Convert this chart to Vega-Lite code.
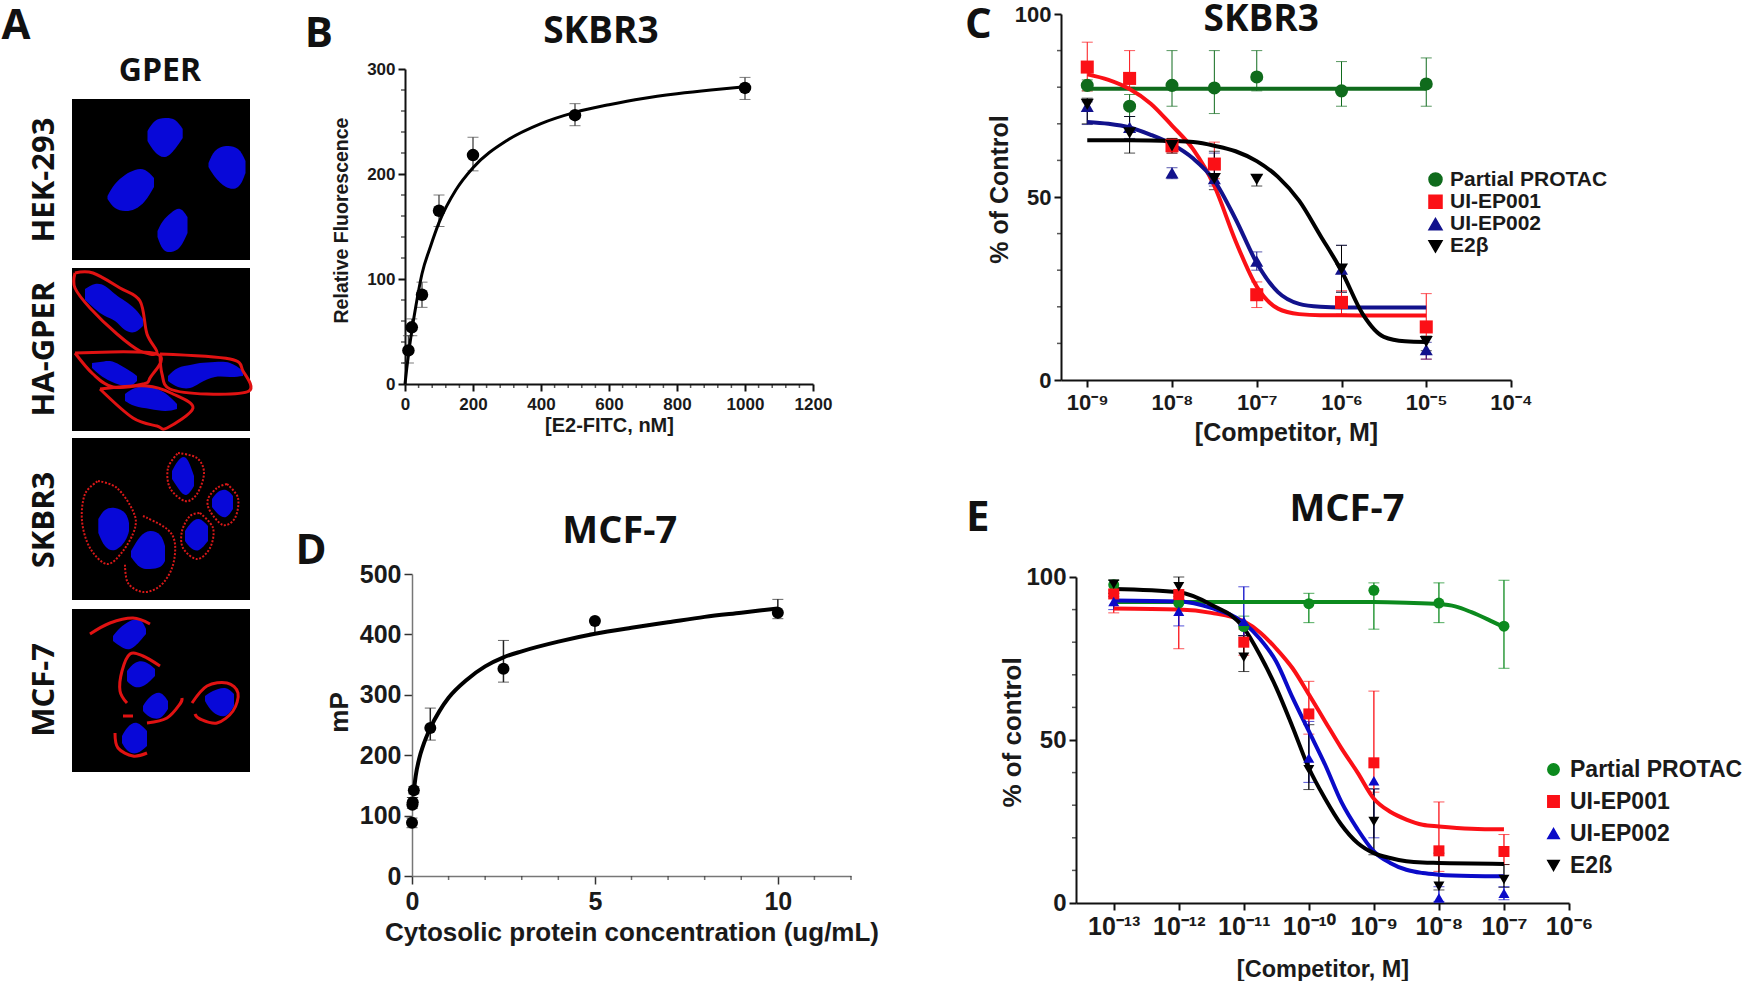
{"$schema":"https://vega.github.io/schema/vega-lite/v6.json","padding":0,"background":"white","bounds":"flush","spacing":0,
"resolve":{"scale":{"color":"independent","shape":"independent"},"legend":{"color":"independent","shape":"independent"}},
"config":{"view":{"stroke":null},"axis":{"grid":false,"domainColor":"#111","tickColor":"#111","domainWidth":2,"tickWidth":2,"labelFont":"Liberation Sans","titleFont":"Liberation Sans","labelFontWeight":"bold","titleFontWeight":"bold","labelColor":"#1a1a1a","titleColor":"#1a1a1a","labelFlush":false,"labelBound":false},"legend":{"labelFont":"Liberation Sans","labelFontWeight":"bold","labelColor":"#1a1a1a","symbolOpacity":1,"labelLimit":400}},
"datasets":{
"images":[{"panel":"HEK-293","x0":72,"x1":250,"y0":98,"y1":259},{"panel":"HA-GPER","x0":72,"x1":250,"y0":267,"y1":430},{"panel":"SKBR3","x0":72,"x1":250,"y0":437,"y1":599},{"panel":"MCF-7","x0":72,"x1":250,"y0":608,"y1":771}],
"nuclei":[
{"id":"n1","x":147.5,"t":130,"b":140},{"id":"n1","x":155,"t":120,"b":151},{"id":"n1","x":165,"t":117,"b":156},{"id":"n1","x":175,"t":119,"b":148},{"id":"n1","x":182.7,"t":128,"b":137},
{"id":"n2","x":208.5,"t":162,"b":166},{"id":"n2","x":215,"t":150,"b":176},{"id":"n2","x":226,"t":145,"b":186},{"id":"n2","x":238,"t":148,"b":186},{"id":"n2","x":245.5,"t":160,"b":172},
{"id":"n3","x":107.5,"t":195,"b":198},{"id":"n3","x":115,"t":183,"b":207},{"id":"n3","x":125,"t":174,"b":210},{"id":"n3","x":135,"t":169,"b":208},{"id":"n3","x":145,"t":169,"b":200},{"id":"n3","x":154,"t":177,"b":186},
{"id":"n4","x":157.5,"t":230,"b":236},{"id":"n4","x":163,"t":220,"b":248},{"id":"n4","x":171,"t":212,"b":251},{"id":"n4","x":180,"t":208,"b":246},{"id":"n4","x":187.5,"t":216,"b":232},
{"id":"h1","x":85,"t":288,"b":299},{"id":"h1","x":95,"t":283,"b":308},{"id":"h1","x":105,"t":285,"b":315},{"id":"h1","x":115,"t":293,"b":320},{"id":"h1","x":125,"t":300,"b":329},{"id":"h1","x":135,"t":308,"b":331},{"id":"h1","x":143,"t":318,"b":325},
{"id":"h2","x":92,"t":362,"b":367},{"id":"h2","x":100,"t":361,"b":374},{"id":"h2","x":110,"t":360,"b":380},{"id":"h2","x":120,"t":364,"b":384},{"id":"h2","x":130,"t":370,"b":385},{"id":"h2","x":137,"t":375,"b":380},
{"id":"h3","x":168,"t":375,"b":380},{"id":"h3","x":178,"t":367,"b":386},{"id":"h3","x":190,"t":364,"b":387},{"id":"h3","x":200,"t":362,"b":382},{"id":"h3","x":215,"t":361,"b":376},{"id":"h3","x":230,"t":362,"b":376},{"id":"h3","x":243,"t":370,"b":375},
{"id":"h4","x":125,"t":393,"b":400},{"id":"h4","x":135,"t":387,"b":405},{"id":"h4","x":150,"t":386,"b":408},{"id":"h4","x":165,"t":392,"b":410},{"id":"h4","x":177,"t":403,"b":408},
{"id":"a","x":98.3,"t":518,"b":532},{"id":"a","x":105,"t":509,"b":545},{"id":"a","x":115,"t":507,"b":549},{"id":"a","x":125,"t":512,"b":540},{"id":"a","x":129,"t":522,"b":530},
{"id":"b","x":131,"t":550,"b":556},{"id":"b","x":140,"t":536,"b":566},{"id":"b","x":150,"t":530,"b":568},{"id":"b","x":160,"t":534,"b":566},{"id":"b","x":165,"t":545,"b":560},
{"id":"c","x":172,"t":470,"b":478},{"id":"c","x":178,"t":460,"b":487},{"id":"c","x":186,"t":457,"b":494},{"id":"c","x":194,"t":475,"b":485},
{"id":"d","x":185,"t":530,"b":540},{"id":"d","x":191,"t":522,"b":547},{"id":"d","x":199,"t":518,"b":549},{"id":"d","x":208,"t":525,"b":540},
{"id":"e","x":212,"t":498,"b":506},{"id":"e","x":218,"t":491,"b":513},{"id":"e","x":226,"t":489,"b":516},{"id":"e","x":233,"t":495,"b":508},
{"id":"f","x":113,"t":635,"b":640},{"id":"f","x":120,"t":627,"b":645},{"id":"f","x":130,"t":620,"b":648},{"id":"f","x":140,"t":619,"b":640},{"id":"f","x":146,"t":628,"b":633},
{"id":"g","x":127,"t":670,"b":680},{"id":"g","x":135,"t":662,"b":686},{"id":"g","x":145,"t":661,"b":684},{"id":"g","x":155,"t":668,"b":675},
{"id":"i2","x":143,"t":705,"b":710},{"id":"i2","x":150,"t":696,"b":716},{"id":"i2","x":160,"t":692,"b":717},{"id":"i2","x":168,"t":700,"b":708},
{"id":"i","x":122,"t":735,"b":742},{"id":"i","x":128,"t":726,"b":750},{"id":"i","x":137,"t":722,"b":752},{"id":"i","x":147,"t":730,"b":745},
{"id":"j","x":205,"t":695,"b":700},{"id":"j","x":213,"t":690,"b":711},{"id":"j","x":225,"t":687,"b":715},{"id":"j","x":234,"t":693,"b":705}],
"membranes":[
{"id":"M1","o":1,"x":75,"y":272},{"id":"M1","o":2,"x":93,"y":272},{"id":"M1","o":3,"x":120,"y":287},{"id":"M1","o":4,"x":140,"y":300},{"id":"M1","o":5,"x":147,"y":333},{"id":"M1","o":6,"x":157,"y":352},{"id":"M1","o":7,"x":140,"y":350},{"id":"M1","o":8,"x":117,"y":333},{"id":"M1","o":9,"x":90,"y":307},{"id":"M1","o":10,"x":75,"y":287},{"id":"M1","o":11,"x":75,"y":272},
{"id":"M2","o":1,"x":75,"y":352},{"id":"M2","o":2,"x":157,"y":353},{"id":"M2","o":3,"x":150,"y":377},{"id":"M2","o":4,"x":143,"y":383},{"id":"M2","o":5,"x":113,"y":386},{"id":"M2","o":6,"x":93,"y":373},{"id":"M2","o":7,"x":75,"y":352},
{"id":"M3","o":1,"x":160,"y":353},{"id":"M3","o":2,"x":230,"y":358},{"id":"M3","o":3,"x":243,"y":370},{"id":"M3","o":4,"x":249,"y":390},{"id":"M3","o":5,"x":207,"y":393},{"id":"M3","o":6,"x":170,"y":388},{"id":"M3","o":7,"x":162,"y":373},{"id":"M3","o":8,"x":160,"y":353},
{"id":"M4","o":1,"x":100,"y":388},{"id":"M4","o":2,"x":147,"y":385},{"id":"M4","o":3,"x":173,"y":393},{"id":"M4","o":4,"x":193,"y":407},{"id":"M4","o":5,"x":167,"y":427},{"id":"M4","o":6,"x":157,"y":425},{"id":"M4","o":7,"x":133,"y":417},{"id":"M4","o":8,"x":100,"y":388},
{"id":"Mf","o":1,"x":90,"y":633},{"id":"Mf","o":2,"x":110,"y":622},{"id":"Mf","o":3,"x":133,"y":617},{"id":"Mf","o":4,"x":150,"y":623},
{"id":"Mg","o":1,"x":160,"y":665},{"id":"Mg","o":2,"x":143,"y":655},{"id":"Mg","o":3,"x":130,"y":653},{"id":"Mg","o":4,"x":122,"y":670},{"id":"Mg","o":5,"x":120,"y":690},{"id":"Mg","o":6,"x":127,"y":702},
{"id":"Mh","o":1,"x":147,"y":722},{"id":"Mh","o":2,"x":167,"y":717},{"id":"Mh","o":3,"x":180,"y":703},{"id":"Mh","o":4,"x":182,"y":697},
{"id":"Mi","o":1,"x":115,"y":732},{"id":"Mi","o":2,"x":118,"y":747},{"id":"Mi","o":3,"x":133,"y":755},{"id":"Mi","o":4,"x":147,"y":752},
{"id":"Mk","o":1,"x":123,"y":715},{"id":"Mk","o":2,"x":133,"y":715},
{"id":"Mj","o":1,"x":192,"y":702},{"id":"Mj","o":2,"x":207,"y":685},{"id":"Mj","o":3,"x":227,"y":682},{"id":"Mj","o":4,"x":238,"y":692},{"id":"Mj","o":5,"x":233,"y":710},{"id":"Mj","o":6,"x":217,"y":722},{"id":"Mj","o":7,"x":200,"y":718},{"id":"Mj","o":8,"x":195,"y":713}],
"dotted":[
{"id":"Ma","o":1,"x":98,"y":480},{"id":"Ma","o":2,"x":117,"y":487},{"id":"Ma","o":3,"x":133,"y":510},{"id":"Ma","o":4,"x":135,"y":527},{"id":"Ma","o":5,"x":123,"y":550},{"id":"Ma","o":6,"x":107,"y":563},{"id":"Ma","o":7,"x":90,"y":547},{"id":"Ma","o":8,"x":82,"y":520},{"id":"Ma","o":9,"x":85,"y":493},{"id":"Ma","o":10,"x":98,"y":480},
{"id":"Mb","o":1,"x":143,"y":515},{"id":"Mb","o":2,"x":167,"y":528},{"id":"Mb","o":3,"x":175,"y":543},{"id":"Mb","o":4,"x":172,"y":567},{"id":"Mb","o":5,"x":160,"y":585},{"id":"Mb","o":6,"x":143,"y":591},{"id":"Mb","o":7,"x":128,"y":582},{"id":"Mb","o":8,"x":125,"y":563},
{"id":"Mc","o":1,"x":178,"y":452},{"id":"Mc","o":2,"x":197,"y":457},{"id":"Mc","o":3,"x":204,"y":472},{"id":"Mc","o":4,"x":197,"y":493},{"id":"Mc","o":5,"x":185,"y":500},{"id":"Mc","o":6,"x":170,"y":487},{"id":"Mc","o":7,"x":168,"y":467},{"id":"Mc","o":8,"x":178,"y":452},
{"id":"Md","o":1,"x":200,"y":512},{"id":"Md","o":2,"x":213,"y":527},{"id":"Md","o":3,"x":210,"y":547},{"id":"Md","o":4,"x":197,"y":558},{"id":"Md","o":5,"x":183,"y":547},{"id":"Md","o":6,"x":182,"y":530},{"id":"Md","o":7,"x":190,"y":515},{"id":"Md","o":8,"x":200,"y":512},
{"id":"Me","o":1,"x":227,"y":483},{"id":"Me","o":2,"x":238,"y":497},{"id":"Me","o":3,"x":235,"y":517},{"id":"Me","o":4,"x":223,"y":524},{"id":"Me","o":5,"x":210,"y":510},{"id":"Me","o":6,"x":208,"y":498},{"id":"Me","o":7,"x":217,"y":487},{"id":"Me","o":8,"x":227,"y":483}],
"minorB_x":[{"v":40},{"v":80},{"v":120},{"v":160},{"v":240},{"v":280},{"v":320},{"v":360},{"v":440},{"v":480},{"v":520},{"v":560},{"v":640},{"v":680},{"v":720},{"v":760},{"v":840},{"v":880},{"v":920},{"v":960},{"v":1040},{"v":1080},{"v":1120},{"v":1160}],
"minorB_y":[{"v":20},{"v":40},{"v":60},{"v":80},{"v":120},{"v":140},{"v":160},{"v":180},{"v":220},{"v":240},{"v":260},{"v":280}],
"minorD_x":[{"v":1},{"v":2},{"v":3},{"v":4},{"v":6},{"v":7},{"v":8},{"v":9},{"v":11},{"v":12}],
"minorPct":[{"v":10},{"v":20},{"v":30},{"v":40},{"v":60},{"v":70},{"v":80},{"v":90}],
"bPts":[{"x":10,"y":32,"lo":20,"hi":46},{"x":20,"y":54,"lo":46,"hi":62},{"x":50,"y":85,"lo":73,"hi":97},{"x":100,"y":165,"lo":150,"hi":180},{"x":200,"y":218,"lo":203,"hi":235},{"x":500,"y":256,"lo":246,"hi":267},{"x":1000,"y":282,"lo":271,"hi":292}],
"bFit":[{"x":0,"y":0},{"x":5,"y":14.4},{"x":10,"y":27.6},{"x":20,"y":50.7},{"x":30,"y":70.5},{"x":50,"y":105},{"x":75,"y":131},{"x":100,"y":153.7},{"x":150,"y":185},{"x":200,"y":206},{"x":300,"y":232},{"x":400,"y":248},{"x":500,"y":258.7},{"x":600,"y":266},{"x":700,"y":272},{"x":800,"y":276.4},{"x":900,"y":280},{"x":1000,"y":283}],
"dPts":[{"x":0,"y":88,"lo":80,"hi":96},{"x":0.01,"y":118,"lo":112,"hi":130},{"x":0.02,"y":122,"lo":116,"hi":130},{"x":0.05,"y":142,"lo":136,"hi":148},{"x":0.5,"y":245,"lo":225,"hi":278},{"x":2.5,"y":343,"lo":321,"hi":390},{"x":5,"y":422,"lo":402,"hi":424},{"x":10,"y":436,"lo":426,"hi":458}],
"dFit":[{"x":0.05,"y":140},{"x":0.1,"y":165},{"x":0.2,"y":195},{"x":0.3,"y":215},{"x":0.5,"y":245},{"x":0.75,"y":273},{"x":1,"y":295},{"x":1.5,"y":325},{"x":2,"y":347},{"x":2.5,"y":362},{"x":3,"y":372},{"x":4,"y":388},{"x":5,"y":401},{"x":6,"y":411},{"x":7,"y":420},{"x":8,"y":429},{"x":9,"y":436},{"x":10,"y":443}],
"cPts":[
{"s":"Partial PROTAC","c":1e-9,"y":80.5,"lo":79,"hi":82},{"s":"Partial PROTAC","c":3.16e-9,"y":74.8,"lo":72,"hi":78},{"s":"Partial PROTAC","c":1e-8,"y":80.5,"lo":74.8,"hi":90},{"s":"Partial PROTAC","c":3.16e-8,"y":79.8,"lo":72.8,"hi":90},{"s":"Partial PROTAC","c":1e-7,"y":82.8,"lo":79,"hi":90},{"s":"Partial PROTAC","c":1e-6,"y":79,"lo":74.8,"hi":87},{"s":"Partial PROTAC","c":1e-5,"y":80.9,"lo":74.8,"hi":88},
{"s":"UI-EP001","c":1e-9,"y":85.5,"lo":79,"hi":92.3},{"s":"UI-EP001","c":3.16e-9,"y":82.4,"lo":80,"hi":90},{"s":"UI-EP001","c":1e-8,"y":64,"lo":62,"hi":66},{"s":"UI-EP001","c":3.16e-8,"y":59,"lo":55,"hi":65},{"s":"UI-EP001","c":1e-7,"y":23.3,"lo":19.8,"hi":26.8},{"s":"UI-EP001","c":1e-6,"y":21.2,"lo":18,"hi":24.4},{"s":"UI-EP001","c":1e-5,"y":14.5,"lo":5.7,"hi":23.6},
{"s":"UI-EP002","c":1e-9,"y":74.8,"lo":69.8,"hi":76},{"s":"UI-EP002","c":3.16e-9,"y":69,"lo":66,"hi":72},{"s":"UI-EP002","c":1e-8,"y":56.6,"lo":55,"hi":58},{"s":"UI-EP002","c":3.16e-8,"y":55,"lo":53,"hi":62},{"s":"UI-EP002","c":1e-7,"y":32.5,"lo":30,"hi":35},{"s":"UI-EP002","c":1e-6,"y":30.3,"lo":24,"hi":36.8},{"s":"UI-EP002","c":1e-5,"y":8.3,"lo":5.7,"hi":10.3},
{"s":"E2β","c":1e-9,"y":75.3,"lo":70,"hi":77},{"s":"E2β","c":3.16e-9,"y":67.5,"lo":62,"hi":72},{"s":"E2β","c":1e-8,"y":64,"lo":62,"hi":66},{"s":"E2β","c":3.16e-8,"y":55,"lo":52,"hi":62.5},{"s":"E2β","c":1e-7,"y":54.8,"lo":53,"hi":56},{"s":"E2β","c":1e-6,"y":30.3,"lo":24,"hi":36.8},{"s":"E2β","c":1e-5,"y":10.5,"lo":8,"hi":12}],
"cFit":[
{"s":"Partial PROTAC","c":1e-9,"y":79.6},{"s":"Partial PROTAC","c":3.16e-9,"y":79.6},{"s":"Partial PROTAC","c":1e-8,"y":79.6},{"s":"Partial PROTAC","c":3.16e-8,"y":79.6},{"s":"Partial PROTAC","c":1e-7,"y":79.6},{"s":"Partial PROTAC","c":1e-6,"y":79.6},{"s":"Partial PROTAC","c":1e-5,"y":79.6},
{"s":"UI-EP001","c":1e-9,"y":83.5},{"s":"UI-EP001","c":1.78e-9,"y":82},{"s":"UI-EP001","c":3.16e-9,"y":79.5},{"s":"UI-EP001","c":5.62e-9,"y":75.5},{"s":"UI-EP001","c":1e-8,"y":69.5},{"s":"UI-EP001","c":1.78e-8,"y":63},{"s":"UI-EP001","c":3.16e-8,"y":53},{"s":"UI-EP001","c":5.62e-8,"y":38},{"s":"UI-EP001","c":1e-7,"y":25.5},{"s":"UI-EP001","c":1.78e-7,"y":19.5},{"s":"UI-EP001","c":3.16e-7,"y":18},{"s":"UI-EP001","c":5.62e-7,"y":17.7},{"s":"UI-EP001","c":1e-6,"y":17.7},{"s":"UI-EP001","c":3.16e-6,"y":17.6},{"s":"UI-EP001","c":1e-5,"y":17.6},
{"s":"UI-EP002","c":1e-9,"y":70.5},{"s":"UI-EP002","c":1.78e-9,"y":70},{"s":"UI-EP002","c":3.16e-9,"y":69},{"s":"UI-EP002","c":5.62e-9,"y":67},{"s":"UI-EP002","c":1e-8,"y":64.4},{"s":"UI-EP002","c":1.78e-8,"y":60.5},{"s":"UI-EP002","c":3.16e-8,"y":54.5},{"s":"UI-EP002","c":5.62e-8,"y":44},{"s":"UI-EP002","c":1e-7,"y":32},{"s":"UI-EP002","c":1.78e-7,"y":24},{"s":"UI-EP002","c":3.16e-7,"y":20.8},{"s":"UI-EP002","c":5.62e-7,"y":20},{"s":"UI-EP002","c":1e-6,"y":19.8},{"s":"UI-EP002","c":3.16e-6,"y":19.8},{"s":"UI-EP002","c":1e-5,"y":19.8},
{"s":"E2β","c":1e-9,"y":65.5},{"s":"E2β","c":3.16e-9,"y":65.5},{"s":"E2β","c":1e-8,"y":65.3},{"s":"E2β","c":1.78e-8,"y":65},{"s":"E2β","c":3.16e-8,"y":64},{"s":"E2β","c":5.62e-8,"y":62.5},{"s":"E2β","c":1e-7,"y":59.8},{"s":"E2β","c":1.78e-7,"y":55.5},{"s":"E2β","c":3.16e-7,"y":49},{"s":"E2β","c":5.62e-7,"y":39.5},{"s":"E2β","c":1e-6,"y":29.8},{"s":"E2β","c":1.78e-6,"y":18},{"s":"E2β","c":3.16e-6,"y":11.8},{"s":"E2β","c":5.62e-6,"y":10.6},{"s":"E2β","c":1e-5,"y":10.4}],
"ePts":[
{"s":"Partial PROTAC","c":1e-13,"y":97.6,"lo":95,"hi":99},{"s":"Partial PROTAC","c":1e-12,"y":92,"lo":90,"hi":94},{"s":"Partial PROTAC","c":1e-11,"y":84.8,"lo":82,"hi":88},{"s":"Partial PROTAC","c":1e-10,"y":91.8,"lo":86,"hi":95},{"s":"Partial PROTAC","c":1e-9,"y":95.9,"lo":84,"hi":98.2},{"s":"Partial PROTAC","c":1e-8,"y":92,"lo":86,"hi":98.2},{"s":"Partial PROTAC","c":1e-7,"y":84.9,"lo":72,"hi":99},
{"s":"UI-EP001","c":1e-13,"y":94.8,"lo":89,"hi":96},{"s":"UI-EP001","c":1e-12,"y":94.6,"lo":78,"hi":96},{"s":"UI-EP001","c":1e-11,"y":80,"lo":76,"hi":84},{"s":"UI-EP001","c":1e-10,"y":58,"lo":51.8,"hi":68},{"s":"UI-EP001","c":1e-9,"y":43,"lo":34,"hi":65},{"s":"UI-EP001","c":1e-8,"y":16,"lo":9.7,"hi":31},{"s":"UI-EP001","c":1e-7,"y":15.8,"lo":11.8,"hi":21},
{"s":"UI-EP002","c":1e-13,"y":92.5,"lo":90,"hi":94},{"s":"UI-EP002","c":1e-12,"y":89.5,"lo":85,"hi":93},{"s":"UI-EP002","c":1e-11,"y":86.4,"lo":82,"hi":97},{"s":"UI-EP002","c":1e-10,"y":44.5,"lo":37,"hi":55.7},{"s":"UI-EP002","c":1e-9,"y":37.5,"lo":20,"hi":35},{"s":"UI-EP002","c":1e-8,"y":1.5,"lo":0.5,"hi":5},{"s":"UI-EP002","c":1e-7,"y":3,"lo":1,"hi":5},
{"s":"E2ß","c":1e-13,"y":97.8,"lo":95,"hi":99},{"s":"E2ß","c":1e-12,"y":97,"lo":93,"hi":100},{"s":"E2ß","c":1e-11,"y":75.4,"lo":71,"hi":82},{"s":"E2ß","c":1e-10,"y":40.9,"lo":34.8,"hi":54.7},{"s":"E2ß","c":1e-9,"y":25,"lo":14.8,"hi":35},{"s":"E2ß","c":1e-8,"y":5.1,"lo":4,"hi":15.3},{"s":"E2ß","c":1e-7,"y":7.2,"lo":4.8,"hi":11.8}],
"eFit":[
{"s":"Partial PROTAC","c":1e-13,"y":92.3},{"s":"Partial PROTAC","c":1e-12,"y":92.3},{"s":"Partial PROTAC","c":1e-11,"y":92.3},{"s":"Partial PROTAC","c":1e-10,"y":92.3},{"s":"Partial PROTAC","c":1e-9,"y":92.3},{"s":"Partial PROTAC","c":3.16e-9,"y":92.1},{"s":"Partial PROTAC","c":1e-8,"y":91.7},{"s":"Partial PROTAC","c":1.78e-8,"y":91},{"s":"Partial PROTAC","c":3.16e-8,"y":89.2},{"s":"Partial PROTAC","c":5.62e-8,"y":87},{"s":"Partial PROTAC","c":1e-7,"y":84.6},
{"s":"UI-EP001","c":1e-13,"y":90.3},{"s":"UI-EP001","c":1e-12,"y":90},{"s":"UI-EP001","c":3.16e-12,"y":89},{"s":"UI-EP001","c":1e-11,"y":86.4},{"s":"UI-EP001","c":1.78e-11,"y":83},{"s":"UI-EP001","c":3.16e-11,"y":78},{"s":"UI-EP001","c":5.62e-11,"y":72},{"s":"UI-EP001","c":1e-10,"y":64},{"s":"UI-EP001","c":1.78e-10,"y":55.7},{"s":"UI-EP001","c":3.16e-10,"y":47.5},{"s":"UI-EP001","c":5.62e-10,"y":40},{"s":"UI-EP001","c":1e-9,"y":32},{"s":"UI-EP001","c":1.78e-9,"y":28},{"s":"UI-EP001","c":3.16e-9,"y":25.6},{"s":"UI-EP001","c":5.62e-9,"y":24},{"s":"UI-EP001","c":1e-8,"y":23.5},{"s":"UI-EP001","c":3.16e-8,"y":22.8},{"s":"UI-EP001","c":1e-7,"y":22.6},
{"s":"UI-EP002","c":1e-13,"y":92.8},{"s":"UI-EP002","c":1e-12,"y":92.5},{"s":"UI-EP002","c":3.16e-12,"y":90.5},{"s":"UI-EP002","c":1e-11,"y":85.9},{"s":"UI-EP002","c":1.78e-11,"y":81},{"s":"UI-EP002","c":3.16e-11,"y":74},{"s":"UI-EP002","c":5.62e-11,"y":63},{"s":"UI-EP002","c":1e-10,"y":52.7},{"s":"UI-EP002","c":1.78e-10,"y":42.4},{"s":"UI-EP002","c":3.16e-10,"y":31},{"s":"UI-EP002","c":5.62e-10,"y":22.6},{"s":"UI-EP002","c":1e-9,"y":15.8},{"s":"UI-EP002","c":1.78e-9,"y":12.3},{"s":"UI-EP002","c":3.16e-9,"y":10.2},{"s":"UI-EP002","c":5.62e-9,"y":9.2},{"s":"UI-EP002","c":1e-8,"y":8.7},{"s":"UI-EP002","c":3.16e-8,"y":8.3},{"s":"UI-EP002","c":1e-7,"y":8.2},
{"s":"E2ß","c":1e-13,"y":96.3},{"s":"E2ß","c":1e-12,"y":95.3},{"s":"E2ß","c":3.16e-12,"y":91.5},{"s":"E2ß","c":1e-11,"y":84.4},{"s":"E2ß","c":1.78e-11,"y":76},{"s":"E2ß","c":3.16e-11,"y":66},{"s":"E2ß","c":5.62e-11,"y":54},{"s":"E2ß","c":1e-10,"y":41.4},{"s":"E2ß","c":1.78e-10,"y":32},{"s":"E2ß","c":3.16e-10,"y":24},{"s":"E2ß","c":5.62e-10,"y":18.4},{"s":"E2ß","c":1e-9,"y":15.3},{"s":"E2ß","c":1.78e-9,"y":13.8},{"s":"E2ß","c":3.16e-9,"y":12.8},{"s":"E2ß","c":5.62e-9,"y":12.4},{"s":"E2ß","c":1e-8,"y":12.3},{"s":"E2ß","c":3.16e-8,"y":12.1},{"s":"E2ß","c":1e-7,"y":12}]
},
"hconcat":[
{"width":300,"height":981,
"layer":[
{"data":{"name":"images"},"mark":{"type":"rect","color":"#000"},"encoding":{"x":{"field":"x0","type":"quantitative","scale":{"domain":[0,300],"nice":false,"zero":false},"axis":null},"x2":{"field":"x1"},"y":{"field":"y0","type":"quantitative","scale":{"domain":[981,0],"nice":false,"zero":false},"axis":null},"y2":{"field":"y1"}}},
{"data":{"name":"nuclei"},"mark":{"type":"area","color":"#0808d8","interpolate":"natural"},"encoding":{"x":{"field":"x","type":"quantitative"},"y":{"field":"t","type":"quantitative"},"y2":{"field":"b"},"detail":{"field":"id"}}},
{"data":{"name":"membranes"},"mark":{"type":"line","color":"#e01212","strokeWidth":3,"interpolate":"cardinal"},"encoding":{"x":{"field":"x","type":"quantitative"},"y":{"field":"y","type":"quantitative"},"detail":{"field":"id"},"order":{"field":"o"}}},
{"data":{"name":"dotted"},"mark":{"type":"line","color":"#d81818","strokeWidth":2,"strokeDash":[2,1.6],"interpolate":"cardinal"},"encoding":{"x":{"field":"x","type":"quantitative"},"y":{"field":"y","type":"quantitative"},"detail":{"field":"id"},"order":{"field":"o"}}},
{"data":{"values":[{"t":"A","x":16,"y":38},{"t":"GPER","x":160,"y":80}]},"mark":{"type":"text","font":"Open Sans","fontWeight":"bold","color":"#111","baseline":"alphabetic"},"encoding":{"x":{"field":"x","type":"quantitative"},"y":{"field":"y","type":"quantitative"},"text":{"field":"t"},"size":{"condition":{"test":"datum.t=='A'","value":42},"value":32}}},
{"data":{"values":[{"t":"HEK-293","x":45,"y":179},{"t":"HA-GPER","x":45,"y":348},{"t":"SKBR3","x":45,"y":519},{"t":"MCF-7","x":45,"y":689}]},"mark":{"type":"text","font":"Open Sans","fontWeight":"bold","fontSize":31,"angle":270,"color":"#111"},"encoding":{"x":{"field":"x","type":"quantitative"},"y":{"field":"y","type":"quantitative"},"text":{"field":"t"}}}
]},
{"bounds":"flush","spacing":0,"vconcat":[
{"width":10,"height":68,"data":{"values":[]},"mark":"point","encoding":{}},
{"bounds":"flush","spacing":0,"hconcat":[
{"width":105,"height":10,"data":{"values":[]},"mark":"point","encoding":{}},
{"width":408,"height":315,"layer":[
{"data":{"name":"bPts"},"mark":{"type":"errorbar","ticks":{"size":11,"color":"#444"},"rule":{"color":"#444","strokeWidth":1.3}},"encoding":{"x":{"field":"x","type":"quantitative","title":"[E2-FITC, nM]"},"y":{"field":"lo","type":"quantitative","title":"Relative Fluorescence"},"y2":{"field":"hi"}}},
{"data":{"name":"bFit"},"mark":{"type":"line","color":"#000","strokeWidth":3,"interpolate":"monotone"},"encoding":{"x":{"field":"x","type":"quantitative","title":"[E2-FITC, nM]","scale":{"domain":[0,1200],"nice":false},"axis":{"values":[0,200,400,600,800,1000,1200],"format":"d","tickSize":7,"labelFontSize":17,"titleFontSize":20,"labelPadding":5,"titlePadding":3}},"y":{"field":"y","type":"quantitative","title":"Relative Fluorescence","scale":{"domain":[0,300],"nice":false},"axis":{"values":[0,100,200,300],"tickSize":7,"labelFontSize":17,"titleFontSize":19.5,"labelPadding":3,"titlePadding":15,"titleY":151}}}},
{"data":{"name":"minorB_x"},"mark":{"type":"tick","orient":"vertical","size":4,"thickness":1.5,"color":"#111","yOffset":2},"encoding":{"x":{"field":"v","type":"quantitative","title":"[E2-FITC, nM]"},"y":{"datum":0,"type":"quantitative","title":"Relative Fluorescence"}}},
{"data":{"name":"minorB_y"},"mark":{"type":"tick","orient":"horizontal","size":4,"thickness":1.5,"color":"#111","xOffset":-2},"encoding":{"y":{"field":"v","type":"quantitative","title":"Relative Fluorescence"},"x":{"datum":0,"type":"quantitative","title":"[E2-FITC, nM]"}}},
{"data":{"name":"bPts"},"mark":{"type":"point","filled":true,"opacity":1,"size":156,"color":"#000"},"encoding":{"x":{"field":"x","type":"quantitative"},"y":{"field":"y","type":"quantitative"}}},
{"data":{"values":[{"t":"SKBR3","x":576,"y":335},{"t":"B","x":-253,"y":333}]},"mark":{"type":"text","font":"Open Sans","fontWeight":"bold","color":"#111"},"encoding":{"x":{"field":"x","type":"quantitative"},"y":{"field":"y","type":"quantitative"},"text":{"field":"t"},"size":{"condition":{"test":"datum.t=='B'","value":42},"value":37}}}
]}]},
{"width":10,"height":505,"data":{"values":[]},"mark":"point","encoding":{}},
{"bounds":"flush","spacing":0,"hconcat":[
{"width":112,"height":10,"data":{"values":[]},"mark":"point","encoding":{}},
{"width":439,"height":302,"layer":[
{"data":{"name":"dPts"},"mark":{"type":"errorbar","ticks":{"size":11,"color":"#222"},"rule":{"color":"#222","strokeWidth":1.5}},"encoding":{"x":{"field":"x","type":"quantitative","title":"Cytosolic protein concentration (ug/mL)"},"y":{"field":"lo","type":"quantitative","title":"mP"},"y2":{"field":"hi"}}},
{"data":{"name":"dFit"},"mark":{"type":"line","color":"#000","strokeWidth":4,"interpolate":"monotone"},"encoding":{"x":{"field":"x","type":"quantitative","title":"Cytosolic protein concentration (ug/mL)","scale":{"domain":[0,12],"nice":false},"axis":{"values":[0,5,10],"domainColor":"#777","domainWidth":1.5,"tickColor":"#333","tickWidth":1.5,"tickSize":8,"labelFontSize":25,"titleFontSize":26,"labelPadding":5,"titlePadding":5}},"y":{"field":"y","type":"quantitative","title":"mP","scale":{"domain":[0,500],"nice":false},"axis":{"values":[0,100,200,300,400,500],"domainColor":"#777","domainWidth":1.5,"tickColor":"#333","tickWidth":1.5,"tickSize":8,"labelFontSize":25,"titleFontSize":26,"labelPadding":3,"titlePadding":7,"titleY":138}}}},
{"data":{"name":"minorD_x"},"mark":{"type":"tick","orient":"vertical","size":4,"thickness":1.5,"color":"#333","yOffset":2},"encoding":{"x":{"field":"v","type":"quantitative","title":"Cytosolic protein concentration (ug/mL)"},"y":{"datum":0,"type":"quantitative","title":"mP"}}},
{"data":{"name":"dPts"},"mark":{"type":"point","filled":true,"opacity":1,"size":144,"color":"#000"},"encoding":{"x":{"field":"x","type":"quantitative"},"y":{"field":"y","type":"quantitative"}}},
{"data":{"values":[{"t":"MCF-7","x":5.68,"y":570},{"t":"D","x":-2.76,"y":538}]},"mark":{"type":"text","font":"Open Sans","fontWeight":"bold","color":"#111"},"encoding":{"x":{"field":"x","type":"quantitative"},"y":{"field":"y","type":"quantitative"},"text":{"field":"t"},"size":{"condition":{"test":"datum.t=='D'","value":42},"value":38}}}
]}],"resolve":{"scale":{"color":"independent","shape":"independent"},"legend":{"color":"independent","shape":"independent"}}}
],"resolve":{"scale":{"color":"independent","shape":"independent"},"legend":{"color":"independent","shape":"independent"}}},
{"width":551,"height":10,"data":{"values":[]},"mark":"point","encoding":{}},
{"bounds":"flush","spacing":0,"resolve":{"scale":{"color":"independent","shape":"independent"},"legend":{"color":"independent","shape":"independent"}},"vconcat":[
{"width":10,"height":13,"data":{"values":[]},"mark":"point","encoding":{}},
{"bounds":"flush","spacing":0,"resolve":{"scale":{"color":"independent","shape":"independent"},"legend":{"color":"independent","shape":"independent"}},"hconcat":[
{"width":210,"height":10,"data":{"values":[]},"mark":"point","encoding":{}},
{"width":450,"height":366,"layer":[
{"data":{"name":"cPts"},"mark":{"type":"errorbar","ticks":{"size":11},"rule":{"strokeWidth":1}},"encoding":{"x":{"field":"c","type":"quantitative","title":"[Competitor, M]"},"y":{"field":"lo","type":"quantitative","title":"% of Control"},"y2":{"field":"hi"},"color":{"field":"s","type":"nominal","title":null,"scale":{"domain":["Partial PROTAC","UI-EP001","UI-EP002","E2β"],"range":["#0f6b1c","#fb1016","#12128c","#000000"]}}}},
{"data":{"name":"cFit"},"mark":{"type":"line","strokeWidth":4,"interpolate":"monotone"},"encoding":{"x":{"field":"c","type":"quantitative","title":"[Competitor, M]","scale":{"type":"log","domain":[4.9e-10,1e-4],"nice":false},"axis":{"values":[1e-9,1e-8,1e-7,1e-6,1e-5,1e-4],"labelExpr":"'10' + {'-9':'⁻⁹','-8':'⁻⁸','-7':'⁻⁷','-6':'⁻⁶','-5':'⁻⁵','-4':'⁻⁴'}['' + round(log(datum.value)/LN10)]","tickSize":7,"labelFontSize":22,"titleFontSize":25,"labelPadding":5,"titlePadding":7}},"y":{"field":"y","type":"quantitative","title":"% of Control","scale":{"domain":[0,100],"nice":false},"axis":{"values":[0,50,100],"tickSize":7,"labelFontSize":22,"titleFontSize":25,"labelPadding":3,"titlePadding":2,"titleY":175}},"color":{"field":"s","type":"nominal","title":null}}},
{"data":{"name":"minorPct"},"mark":{"type":"tick","orient":"horizontal","size":4,"thickness":1.5,"color":"#111","xOffset":-2},"encoding":{"y":{"field":"v","type":"quantitative","title":"% of Control"},"x":{"datum":4.9e-10,"type":"quantitative","title":"[Competitor, M]"}}},
{"data":{"name":"cPts"},"mark":{"type":"point","filled":true,"opacity":1,"size":170},"encoding":{"x":{"field":"c","type":"quantitative"},"y":{"field":"y","type":"quantitative"},"color":{"field":"s","type":"nominal","title":null,"legend":{"orient":"none","legendX":364,"legendY":155,"title":null,"labelFontSize":21,"symbolSize":170,"rowPadding":0.3,"labelOffset":4}},"shape":{"field":"s","type":"nominal","title":null,"scale":{"domain":["Partial PROTAC","UI-EP001","UI-EP002","E2β"],"range":["circle","square","triangle-up","triangle-down"]},"legend":{"orient":"none","legendX":364,"legendY":155,"title":null,"labelFontSize":21,"symbolSize":170,"rowPadding":0.3,"labelOffset":4}}}},
{"data":{"values":[{"t":"SKBR3","c":1.13e-7,"y":95.4},{"t":"C","c":5.2e-11,"y":93.4}]},"mark":{"type":"text","font":"Open Sans","fontWeight":"bold","color":"#111","baseline":"alphabetic"},"encoding":{"x":{"field":"c","type":"quantitative"},"y":{"field":"y","type":"quantitative"},"text":{"field":"t"},"size":{"condition":{"test":"datum.t=='C'","value":42},"value":37}}}
]}]},
{"width":10,"height":563,"data":{"values":[]},"mark":"point","encoding":{}},
{"bounds":"flush","spacing":0,"resolve":{"scale":{"color":"independent","shape":"independent"},"legend":{"color":"independent","shape":"independent"}},"hconcat":[
{"width":225,"height":10,"data":{"values":[]},"mark":"point","encoding":{}},
{"width":493,"height":326,"layer":[
{"data":{"name":"ePts"},"mark":{"type":"errorbar","ticks":{"size":11},"rule":{"strokeWidth":1.3}},"encoding":{"x":{"field":"c","type":"quantitative","title":"[Competitor, M]"},"y":{"field":"lo","type":"quantitative","title":"% of control"},"y2":{"field":"hi"},"color":{"field":"s","type":"nominal","title":null,"scale":{"domain":["Partial PROTAC","UI-EP001","UI-EP002","E2ß"],"range":["#0c8a1e","#fb1016","#0a0ac8","#000000"]}}}},
{"data":{"name":"eFit"},"mark":{"type":"line","strokeWidth":4,"interpolate":"monotone"},"encoding":{"x":{"field":"c","type":"quantitative","title":"[Competitor, M]","scale":{"type":"log","domain":[2.63e-14,1e-6],"nice":false},"axis":{"values":[1e-13,1e-12,1e-11,1e-10,1e-9,1e-8,1e-7,1e-6],"labelExpr":"'10' + {'-13':'⁻¹³','-12':'⁻¹²','-11':'⁻¹¹','-10':'⁻¹⁰','-9':'⁻⁹','-8':'⁻⁸','-7':'⁻⁷','-6':'⁻⁶'}['' + round(log(datum.value)/LN10)]","tickSize":7,"labelFontSize":25,"titleFontSize":23.5,"labelPadding":4,"titlePadding":18}},"y":{"field":"y","type":"quantitative","title":"% of control","scale":{"domain":[0,100],"nice":false},"axis":{"values":[0,50,100],"tickSize":7,"labelFontSize":24,"titleFontSize":26,"labelPadding":3,"titlePadding":0,"titleY":155}},"color":{"field":"s","type":"nominal","title":null}}},
{"data":{"name":"minorPct"},"mark":{"type":"tick","orient":"horizontal","size":4,"thickness":1.5,"color":"#111","xOffset":-2},"encoding":{"y":{"field":"v","type":"quantitative","title":"% of control"},"x":{"datum":2.63e-14,"type":"quantitative","title":"[Competitor, M]"}}},
{"data":{"name":"ePts"},"mark":{"type":"point","filled":true,"opacity":1,"size":121},"encoding":{"x":{"field":"c","type":"quantitative"},"y":{"field":"y","type":"quantitative"},"color":{"field":"s","type":"nominal","title":null,"legend":{"orient":"none","legendX":466,"legendY":181,"title":null,"labelFontSize":23,"symbolSize":130,"rowPadding":8,"labelOffset":5}},"shape":{"field":"s","type":"nominal","title":null,"scale":{"domain":["Partial PROTAC","UI-EP001","UI-EP002","E2ß"],"range":["circle","square","triangle-up","triangle-down"]},"legend":{"orient":"none","legendX":466,"legendY":181,"title":null,"labelFontSize":23,"symbolSize":130,"rowPadding":8,"labelOffset":5}}}},
{"data":{"values":[{"t":"MCF-7","c":3.85e-10,"y":120.6},{"t":"E","c":8.1e-16,"y":118}]},"mark":{"type":"text","font":"Open Sans","fontWeight":"bold","color":"#111"},"encoding":{"x":{"field":"c","type":"quantitative"},"y":{"field":"y","type":"quantitative"},"text":{"field":"t"},"size":{"condition":{"test":"datum.t=='E'","value":42},"value":38}}}
]}]}
]}
]}
